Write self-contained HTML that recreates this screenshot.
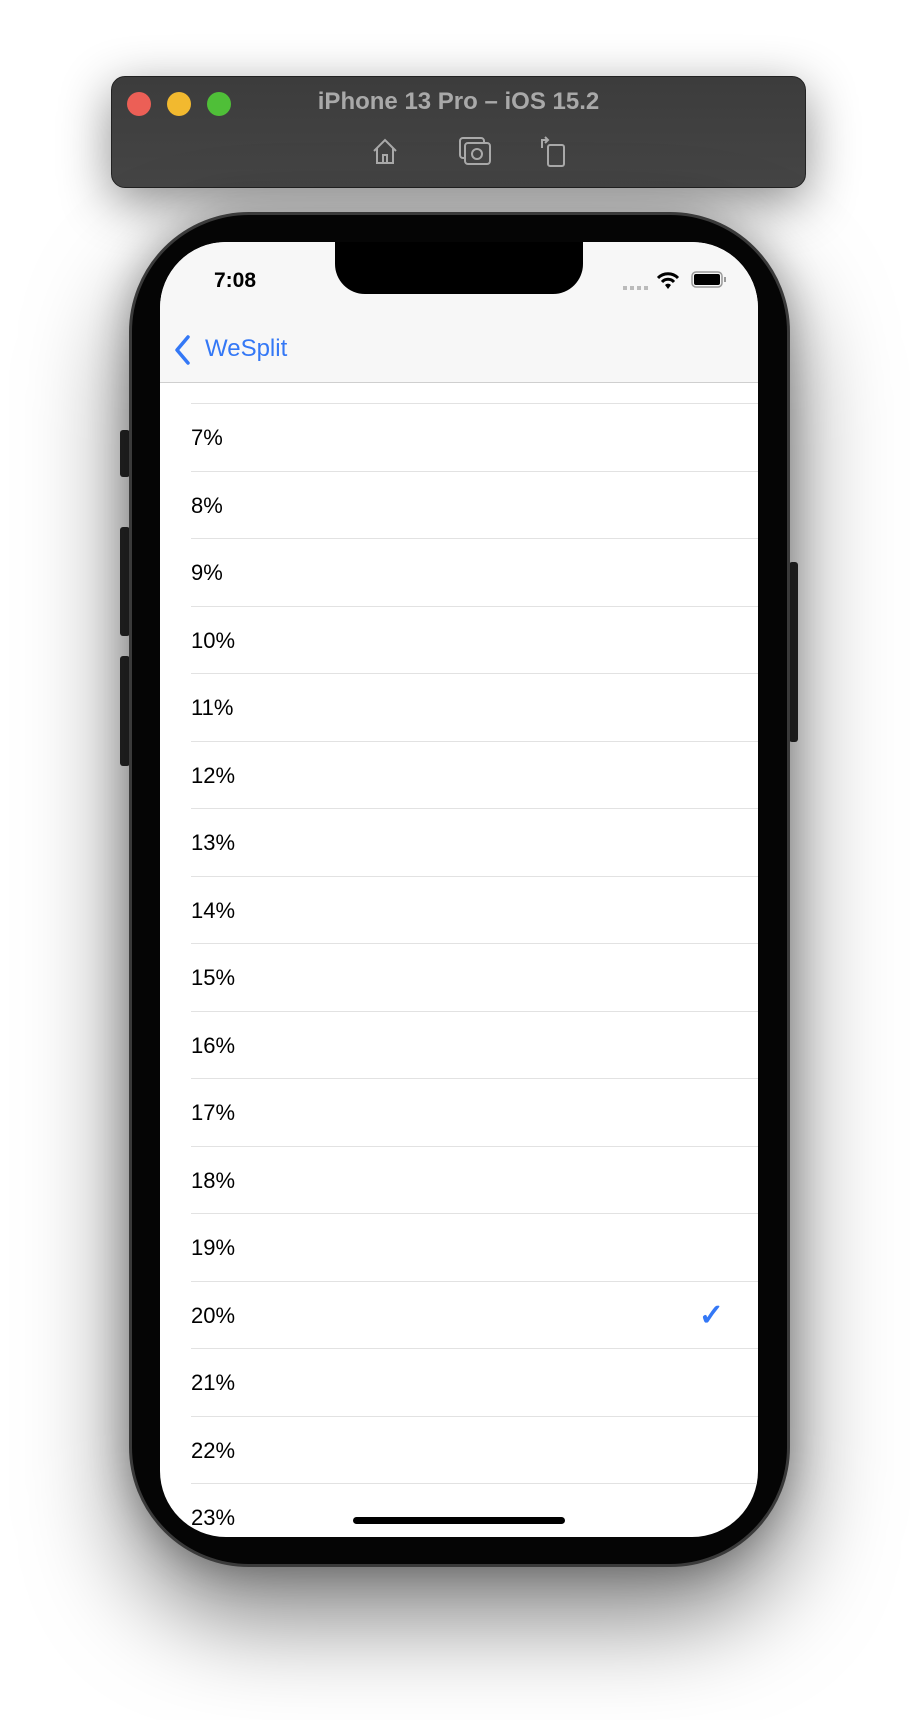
<!DOCTYPE html>
<html><head><meta charset="utf-8">
<style>
html,body{margin:0;padding:0;background:#fff;}
body{width:918px;height:1720px;position:relative;overflow:hidden;font-family:"Liberation Sans",sans-serif;}
.abs{position:absolute;}
#winbar{left:111px;top:76px;width:695px;height:112px;border-radius:14px;background:linear-gradient(#3c3c3c,#454545);box-shadow:0 14px 50px rgba(0,0,0,.45);border:1px solid #222;box-sizing:border-box;}
.dot{width:24px;height:24px;border-radius:50%;top:92px;}
#title{left:111px;width:695px;top:88px;text-align:center;color:#a9a9a9;font-weight:bold;font-size:24px;}
#phone{left:129px;top:212px;width:661px;height:1355px;border-radius:120px;background:#050505;border:3px solid #3a3a3a;box-sizing:border-box;box-shadow:0 50px 100px rgba(0,0,0,.5),0 0 40px rgba(0,0,0,.3);}
#screen{left:160px;top:242px;width:598px;height:1295px;border-radius:66px;background:#fff;overflow:hidden;}
#nav{left:0;top:0;width:598px;height:140px;background:#f7f7f7;border-bottom:1px solid #cfcfcf;z-index:2;}
.top{z-index:3;}
#notch{left:175px;top:0;width:248px;height:52px;background:#000;border-radius:0 0 30px 30px;}
.row{position:absolute;left:31px;width:567px;height:67.5px;border-top:1px solid #e2e2e2;font-size:22px;line-height:67px;color:#000;z-index:1;}
.btn{background:#2a2a2a;border-radius:3px;}
</style></head><body>
<div class="abs" id="winbar"></div>
<div class="abs dot" style="left:127px;background:#ec5f56"></div>
<div class="abs dot" style="left:167px;background:#f2b92f"></div>
<div class="abs dot" style="left:207px;background:#4fbf38"></div>
<div class="abs" id="title">iPhone 13 Pro – iOS 15.2</div>
<svg class="abs" style="left:370px;top:136px" width="30" height="30" viewBox="0 0 30 30"><path d="M4 15 L15 4 L26 15 M7 12 V27 H23 V12 M13 27 V19 H17 V27" fill="none" stroke="#aaa" stroke-width="2"/></svg>
<svg class="abs" style="left:458px;top:136px" width="34" height="30" viewBox="0 0 34 30"><rect x="2" y="2" width="24" height="20" rx="3" fill="none" stroke="#aaa" stroke-width="2"/><rect x="7" y="7" width="25" height="21" rx="3" fill="#444" stroke="#aaa" stroke-width="2"/><circle cx="19" cy="18" r="5" fill="none" stroke="#aaa" stroke-width="2"/></svg>
<svg class="abs" style="left:538px;top:134px" width="30" height="34" viewBox="0 0 30 34"><rect x="10" y="11" width="16" height="21" rx="2" fill="none" stroke="#aaa" stroke-width="2"/><path d="M4 14 V6 H10 M7 3 L10 6 L7 9" fill="none" stroke="#aaa" stroke-width="2"/></svg>

<div class="abs btn" style="left:120px;top:430px;width:10px;height:47px"></div>
<div class="abs btn" style="left:120px;top:527px;width:10px;height:109px"></div>
<div class="abs btn" style="left:120px;top:656px;width:10px;height:110px"></div>
<div class="abs btn" style="left:789px;top:562px;width:9px;height:180px"></div>
<div class="abs" id="phone"></div>
<div class="abs" id="screen">
  <div class="abs" id="nav"></div>
  <div class="abs top" id="notch"></div>
  <div class="abs top" style="left:54px;top:27px;font-size:21px;font-weight:bold">7:08</div>
  <div class="abs top" style="left:463px;top:44px;width:26px;height:4px;background:repeating-linear-gradient(90deg,#bbb 0 4px,transparent 4px 7px)"></div>
  <svg class="abs top" style="left:496px;top:28px" width="24" height="20" viewBox="0 0 24 20"><path d="M2 8 A14 14 0 0 1 22 8 M6 12 A8 8 0 0 1 18 12" fill="none" stroke="#000" stroke-width="3"/><path d="M9 15 L12 19 L15 15 A4 4 0 0 0 9 15Z" fill="#000"/></svg>
  <svg class="abs top" style="left:531px;top:29px" width="36" height="18" viewBox="0 0 36 18"><rect x="1" y="1" width="30" height="15" rx="4" fill="none" stroke="#999" stroke-width="1.5"/><rect x="3" y="3" width="26" height="11" rx="2" fill="#000"/><rect x="33" y="6" width="2" height="5" fill="#999"/></svg>
  <svg class="abs top" style="left:12px;top:92px" width="20" height="32" viewBox="0 0 20 32"><path d="M16 3 L5 16 L16 29" fill="none" stroke="#3478f6" stroke-width="3.5" stroke-linecap="round" stroke-linejoin="round"/></svg>
  <div class="abs top" style="left:45px;top:93px;font-size:24px;color:#3478f6">WeSplit</div>
  <div id="list"></div>
  <div class="abs top" style="left:193px;top:1275px;width:212px;height:7px;border-radius:4px;background:#000"></div>
</div>
<script>
const percentages=[6,7,8,9,10,11,12,13,14,15,16,17,18,19,20,21,22,23];
const selected=20;
const list=document.getElementById('list');
percentages.forEach(function(p,i){
  const r=document.createElement('div');
  r.className='row';
  r.style.top=(93.5+i*67.5)+'px';
  
  
  r.textContent=p+'%';
  if(p===selected){
    const c=document.createElement('span');
    c.style.cssText='position:absolute;right:34px;top:0;color:#3478f6;font-size:30px;font-weight:bold;';
    c.textContent='✓';
    
    
    r.appendChild(c);
  }
  list.appendChild(r);
});
</script>
</body></html>
